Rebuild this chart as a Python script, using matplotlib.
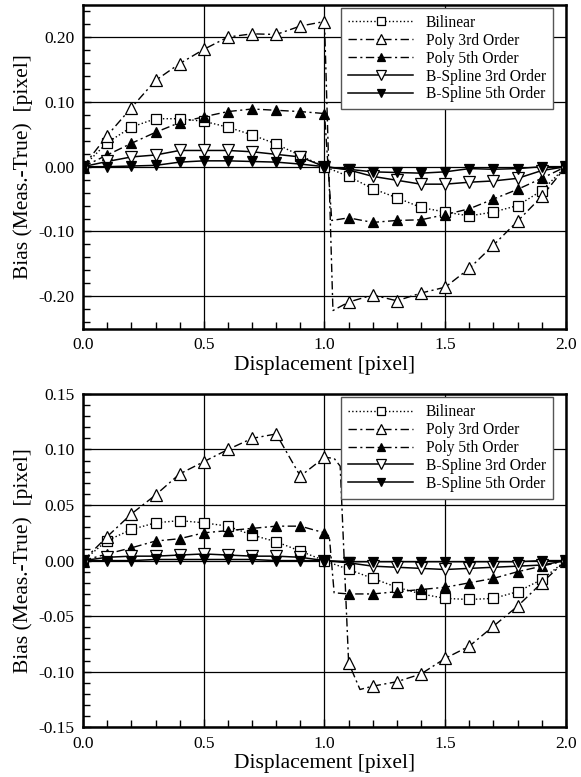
import matplotlib
matplotlib.use("Agg")
import matplotlib.pyplot as plt
from matplotlib.ticker import FormatStrFormatter, MultipleLocator

plt.rcParams["font.family"] = ["Liberation Serif", "DejaVu Serif"]
plt.rcParams["axes.unicode_minus"] = False

# marker positions (displacement, pixel)
X = [round(0.1 * i, 1) for i in range(21)]

# top panel
TOP_BILINEAR = [0.0, 0.037, 0.061, 0.074, 0.074, 0.070, 0.061, 0.049, 0.035, 0.017, 0.0,
                -0.015, -0.034, -0.048, -0.063, -0.070, -0.076, -0.070, -0.060, -0.037, 0.0]
TOP_POLY3 = [0.0, 0.048, 0.091, 0.133, 0.159, 0.181, 0.200, 0.205, 0.204, 0.217, 0.224,
             -0.209, -0.198, -0.207, -0.195, -0.186, -0.157, -0.121, -0.084, -0.046, 0.0]
TOP_POLY5 = [0.0, 0.018, 0.036, 0.053, 0.068, 0.077, 0.085, 0.089, 0.087, 0.085, 0.082,
             -0.079, -0.086, -0.083, -0.082, -0.074, -0.065, -0.050, -0.035, -0.018, 0.0]
TOP_BSPL3 = [0.0, 0.008, 0.015, 0.018, 0.025, 0.025, 0.025, 0.023, 0.019, 0.015, 0.0,
             -0.005, -0.015, -0.021, -0.027, -0.027, -0.024, -0.022, -0.018, -0.006, 0.0]
TOP_BSPL5 = [0.0, 0.0, 0.001, 0.002, 0.007, 0.009, 0.009, 0.008, 0.007, 0.004, 0.0,
             -0.004, -0.008, -0.009, -0.010, -0.008, -0.003, -0.004, -0.003, 0.0, 0.0]
# extra points where the polynomial curves jump just after 1.0
TOP_POLY3_JUMP = ([1.0, 1.035, 1.1], [0.224, -0.222, -0.209])
TOP_POLY5_JUMP = ([1.0, 1.03, 1.1], [0.082, -0.083, -0.079])

# bottom panel
BOT_BILINEAR = [0.0, 0.018, 0.028, 0.034, 0.036, 0.034, 0.031, 0.023, 0.017, 0.0085, 0.0,
                -0.008, -0.016, -0.024, -0.030, -0.034, -0.035, -0.034, -0.028, -0.017, 0.0]
BOT_POLY3 = [0.0, 0.0216, 0.042, 0.059, 0.078, 0.089, 0.100, 0.110, 0.114, 0.076, 0.093,
             -0.092, -0.113, -0.109, -0.102, -0.088, -0.077, -0.059, -0.041, -0.020, 0.0]
BOT_POLY5 = [0.0, 0.006, 0.0115, 0.0176, 0.0197, 0.025, 0.027, 0.029, 0.031, 0.031, 0.025,
             -0.030, -0.030, -0.028, -0.026, -0.024, -0.020, -0.016, -0.010, -0.005, 0.0]
BOT_BSPL3 = [0.0, 0.003, 0.004, 0.004, 0.005, 0.006, 0.005, 0.004, 0.004, 0.003, 0.0,
             -0.002, -0.005, -0.006, -0.007, -0.008, -0.007, -0.006, -0.005, -0.004, 0.0]
BOT_BSPL5 = [0.0, 0.0, 0.0, 0.001, 0.001, 0.001, 0.001, 0.001, 0.0, 0.0, 0.0,
             -0.001, -0.001, -0.001, -0.001, -0.001, -0.001, -0.001, -0.001, 0.0, 0.0]
BOT_POLY3_JUMP = ([1.0, 1.04, 1.065, 1.1, 1.147, 1.2], [0.093, 0.092, 0.085, -0.092, -0.116, -0.113])
BOT_POLY5_JUMP = ([1.0, 1.02, 1.04, 1.1], [0.025, 0.022, -0.029, -0.030])

LABELS = ["Bilinear", "Poly 3rd Order", "Poly 5th Order", "B-Spline 3rd Order", "B-Spline 5th Order"]

DASHDOT = (0, (6, 2.5, 1.5, 2.5))


def with_jump(xs, ys, jump):
    jx, jy = jump
    left = [(x, y) for x, y in zip(xs, ys) if x < jx[0]]
    right = [(x, y) for x, y in zip(xs, ys) if x > jx[-1]]
    pts = left + list(zip(jx, jy)) + right
    return [p[0] for p in pts], [p[1] for p in pts]


def draw_panel(ax, series, jumps, ylim, ymajor, yminor):
    styles = [
        dict(linestyle=":", marker="s", mfc="white", ms=6.5, lw=1.0),
        dict(linestyle=DASHDOT, marker="^", mfc="white", ms=8, lw=1.0),
        dict(linestyle=DASHDOT, marker="^", mfc="black", ms=7, lw=1.0),
        dict(linestyle="-", marker="v", mfc="white", ms=8, lw=1.1),
        dict(linestyle="-", marker="v", mfc="black", ms=7, lw=1.1),
    ]
    for i, (ys, st, lab) in enumerate(zip(series, styles, LABELS)):
        lx, ly = X, ys
        if i in jumps:
            lx, ly = with_jump(X, ys, jumps[i])
        ax.plot(lx, ly, color="black", linestyle=st["linestyle"], lw=st["lw"], zorder=3)
        ax.plot(X, ys, linestyle="none", marker=st["marker"], mfc=st["mfc"],
                mec="black", mew=0.9, ms=st["ms"], zorder=4)
        # proxy for legend
        ax.plot([], [], color="black", linestyle=st["linestyle"], lw=st["lw"],
                marker=st["marker"], mfc=st["mfc"], mec="black", mew=0.9,
                ms=st["ms"] - 1, label=lab)

    ax.set_xlim(0, 2.0)
    ax.set_ylim(*ylim)
    ax.xaxis.set_major_locator(MultipleLocator(0.5))
    ax.xaxis.set_minor_locator(MultipleLocator(0.1))
    ax.yaxis.set_major_locator(MultipleLocator(ymajor))
    ax.yaxis.set_minor_locator(MultipleLocator(yminor))
    ax.xaxis.set_major_formatter(FormatStrFormatter("%.1f"))
    ax.yaxis.set_major_formatter(FormatStrFormatter("%.2f"))
    ax.tick_params(which="both", direction="in", top=False, right=False, labelsize=12.5,
                   width=1.0, color="black")
    ax.tick_params(which="major", length=6, pad=6)
    ax.tick_params(which="minor", length=5)
    ax.grid(which="major", color="black", lw=0.9)
    for sp in ax.spines.values():
        sp.set_linewidth(1.8)
    ax.set_xlabel("Displacement [pixel]", fontsize=15.5, labelpad=2)
    ax.set_ylabel("Bias (Meas.-True)  [pixel]", fontsize=15.5, labelpad=4)
    leg = ax.legend(loc="upper right", fontsize=11.2, handlelength=4.2, numpoints=1,
                    labelspacing=0.12, borderpad=0.45, handletextpad=0.8,
                    borderaxespad=0, fancybox=False, framealpha=1, edgecolor="#555555",
                    bbox_to_anchor=(0.973, 0.99))
    leg.set_zorder(6)
    leg.get_frame().set_linewidth(1.0)


fig = plt.figure(figsize=(5.81, 7.77), dpi=100)
ax_top = fig.add_axes([0.143, 0.577, 0.831, 0.417])
ax_bot = fig.add_axes([0.143, 0.064, 0.831, 0.429])

draw_panel(ax_top, [TOP_BILINEAR, TOP_POLY3, TOP_POLY5, TOP_BSPL3, TOP_BSPL5],
           {1: TOP_POLY3_JUMP, 2: TOP_POLY5_JUMP}, (-0.25, 0.25), 0.1, 0.02)
draw_panel(ax_bot, [BOT_BILINEAR, BOT_POLY3, BOT_POLY5, BOT_BSPL3, BOT_BSPL5],
           {1: BOT_POLY3_JUMP, 2: BOT_POLY5_JUMP}, (-0.15, 0.15), 0.05, 0.01)

fig.savefig("out.png", dpi=100)
